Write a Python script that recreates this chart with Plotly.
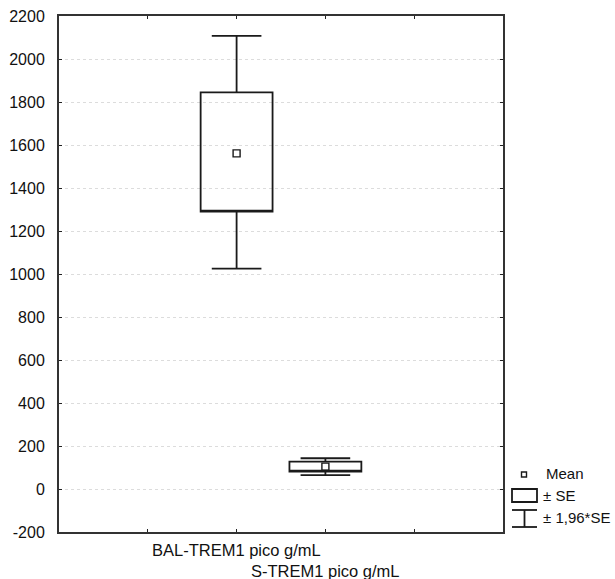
import plotly.graph_objects as go

categories = ["BAL-TREM1 pico g/mL", "S-TREM1 pico g/mL"]
cat_pos = [2, 3]
means = [1561, 104]
se_low = [1290, 81]
se_high = [1845, 127]
ci_low = [1025, 65]
ci_high = [2108, 143]
y_ticks = list(range(-200, 2201, 200))
y_tick_text = [str(v) for v in y_ticks]

INK = "#1a1a1a"
fig = go.Figure()
for i, c in enumerate(categories):
    fig.add_trace(go.Box(
        x=[cat_pos[i]], q1=[se_low[i]], median=[se_low[i]], q3=[se_high[i]],
        lowerfence=[ci_low[i]], upperfence=[ci_high[i]],
        width=0.81, whiskerwidth=0.69,
        line=dict(color=INK, width=1.8), fillcolor="rgba(255,255,255,0)",
        boxpoints=False, showlegend=False, hoverinfo="skip", name=c))
fig.add_trace(go.Scatter(
    x=cat_pos, y=means, mode="markers",
    marker=dict(symbol="square-open", size=7, color=INK, line=dict(width=1.4)),
    showlegend=False, hoverinfo="skip"))

# plot-area pixel helpers (plot spans x 59..503, y 16..532)
def px(x):
    return (x - 59) / 444
def py(y):
    return (532 - y) / 516

# staggered category labels
for i, c in enumerate(categories):
    fig.add_annotation(x=cat_pos[i], xref="x", y=py(549.5 + 21 * i), yref="paper",
                       text=c, showarrow=False, yanchor="middle",
                       font=dict(size=16.5, color="#111"))

# custom legend
lx0, lx1 = 512, 537
fig.add_shape(type="rect", xref="paper", yref="paper", x0=px(521.5), x1=px(526.5),
              y0=py(477), y1=py(472), line=dict(color=INK, width=1.4))
fig.add_shape(type="rect", xref="paper", yref="paper", x0=px(lx0), x1=px(lx1),
              y0=py(502), y1=py(489), line=dict(color=INK, width=1.8))
fig.add_shape(type="line", xref="paper", yref="paper", x0=px(lx0), x1=px(lx1),
              y0=py(510), y1=py(510), line=dict(color=INK, width=1.8))
fig.add_shape(type="line", xref="paper", yref="paper", x0=px(lx0), x1=px(lx1),
              y0=py(527), y1=py(527), line=dict(color=INK, width=1.8))
fig.add_shape(type="line", xref="paper", yref="paper", x0=px(524.5), x1=px(524.5),
              y0=py(510), y1=py(527), line=dict(color=INK, width=1.8))
for txt, yy, xx, fs in [("Mean", 473, 544, 15), ("± SE", 495, 541, 15), ("± 1,96*SE", 517, 541, 15)]:
    fig.add_annotation(xref="paper", yref="paper", x=px(xx), y=py(yy), text=txt,
                       showarrow=False, xanchor="left", yanchor="middle",
                       font=dict(size=fs, color="#111"))

fig.update_layout(
    width=615, height=579,
    margin=dict(l=59, r=112, t=16, b=47),
    paper_bgcolor="white", plot_bgcolor="white",
    font=dict(family="Liberation Sans, Arial, sans-serif", size=16, color="#111"),
    xaxis=dict(range=[0, 5], tickvals=[1, 2, 3, 4], ticktext=["", "", "", ""],
               ticks="inside", ticklen=3, tickcolor="#222", showgrid=False,
               showline=True, linecolor="#333", linewidth=2, mirror="allticks",
               zeroline=False, automargin=False),
    yaxis=dict(range=[-200, 2200], tickvals=y_ticks, ticktext=y_tick_text,
               ticks="inside", ticklen=3,
               tickcolor="#222", showgrid=True, gridcolor="#dcdcdc", griddash="dot",
               gridwidth=1, showline=True, linecolor="#333", linewidth=2,
               mirror="allticks", zeroline=False, tickfont=dict(size=16),
               automargin=False, ticklabelstandoff=9),
)
fig.write_html("out.html", config={"displayModeBar": False},
               post_script="document.body.style.margin='0';")
